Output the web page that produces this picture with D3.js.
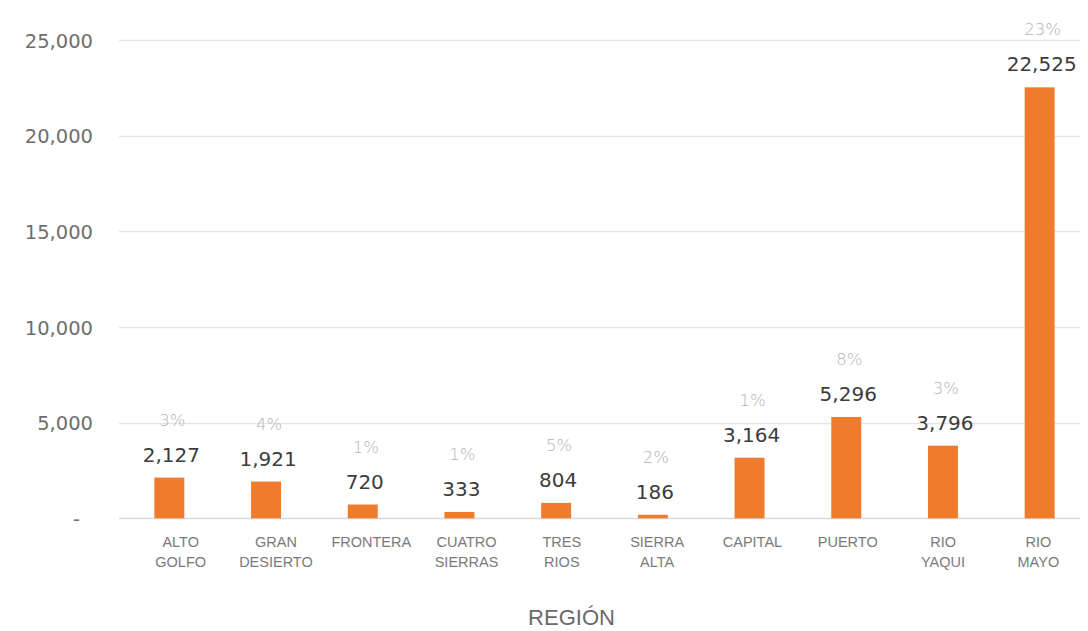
<!DOCTYPE html>
<html>
<head>
<meta charset="utf-8">
<script src="https://cdn.jsdelivr.net/npm/d3@7/dist/d3.min.js"></script>
<style>
  html, body { margin: 0; padding: 0; background: #ffffff; }
  svg { display: block; }
</style>
</head>
<body>
<svg id="chart" width="1088" height="631"></svg>
<script>
const categories = ["ALTO GOLFO", "GRAN DESIERTO", "FRONTERA", "CUATRO SIERRAS", "TRES RIOS",
                    "SIERRA ALTA", "CAPITAL", "PUERTO", "RIO YAQUI", "RIO MAYO"];
const values = [2127, 1921, 720, 333, 804, 186, 3164, 5296, 3796, 22525];
const percents = ["3%", "4%", "1%", "1%", "5%", "2%", "1%", "8%", "3%", "23%"];
const yTicks = [0, 5000, 10000, 15000, 20000, 25000];
const axisTitle = "REGIÓN";

const svg = d3.select("#chart");

const x = d3.scaleBand().domain(categories).range([121, 1088]).paddingInner(0.69).paddingOuter(0.345);
const xLab = d3.scaleBand().domain(categories).range([133, 1086]);
const y = d3.scaleLinear().domain([0, 25000]).range([518.3, 40]);

const fmt = d3.format(",");

// gridlines
svg.append("g")
  .selectAll("line")
  .data(yTicks)
  .join("line")
  .attr("x1", 119).attr("x2", 1080)
  .attr("y1", d => Math.round(y(d)) + 0.5).attr("y2", d => Math.round(y(d)) + 0.5)
  .attr("stroke", d => d === 0 ? "#d9d9d9" : "#e6e6e6")
  .attr("stroke-width", 1.5);

// y axis labels
const yAxis = d3.axisLeft(y)
  .tickValues(yTicks)
  .tickSize(0)
  .tickPadding(0)
  .tickFormat(d => d === 0 ? "-" : fmt(d));
const gy = svg.append("g").attr("transform", "translate(93,0)").call(yAxis);
gy.select(".domain").remove();
gy.selectAll("text")
  .attr("font-family", "DejaVu Sans, sans-serif")
  .attr("font-size", 19.5)
  .attr("fill", "#6e6e6e")
  .attr("dy", "0.36em")
  .attr("dx", d => d === 0 ? -13 : 0);

// bars
svg.append("g")
  .selectAll("rect")
  .data(categories)
  .join("rect")
  .attr("x", d => x(d))
  .attr("width", x.bandwidth())
  .attr("y", (d, i) => y(values[i]))
  .attr("height", (d, i) => y(0) - y(values[i]))
  .attr("fill", "#ef7b2c");

// value labels
svg.append("g")
  .selectAll("text")
  .data(categories)
  .join("text")
  .attr("x", d => x(d) + x.bandwidth() / 2 + 2)
  .attr("y", (d, i) => y(values[i]) - 16)
  .attr("text-anchor", "middle")
  .attr("font-family", "DejaVu Sans, sans-serif")
  .attr("font-size", 20)
  .attr("fill", "#3c3c3c")
  .text((d, i) => fmt(values[i]));

// percent labels
svg.append("g")
  .selectAll("text")
  .data(categories)
  .join("text")
  .attr("x", d => x(d) + x.bandwidth() / 2 + 3)
  .attr("y", (d, i) => y(values[i]) - 52)
  .attr("text-anchor", "middle")
  .attr("font-family", "DejaVu Sans, sans-serif")
  .attr("font-weight", 200)
  .attr("font-size", 16.5)
  .attr("fill", "#b3b3b3")
  .text((d, i) => percents[i]);

// category labels
const cat = svg.append("g")
  .selectAll("text")
  .data(categories)
  .join("text")
  .attr("text-anchor", "middle")
  .attr("font-family", "Liberation Sans, Arial, sans-serif")
  .attr("font-size", 14.5)
  .attr("fill", "#7a7a7a");
cat.selectAll("tspan")
  .data(d => d.split(" ").map(w => ({ w, c: d })))
  .join("tspan")
  .attr("x", t => xLab(t.c) + xLab.bandwidth() / 2)
  .attr("y", (t, j) => 547 + j * 20)
  .text(t => t.w);

// axis title
svg.append("text")
  .attr("x", (xLab.range()[0] + xLab.range()[1]) / 2 - 38)
  .attr("y", 625)
  .attr("text-anchor", "middle")
  .attr("font-family", "Liberation Sans, Arial, sans-serif")
  .attr("font-size", 22)
  .attr("fill", "#6a6a6a")
  .text(axisTitle);
</script>
</body>
</html>
